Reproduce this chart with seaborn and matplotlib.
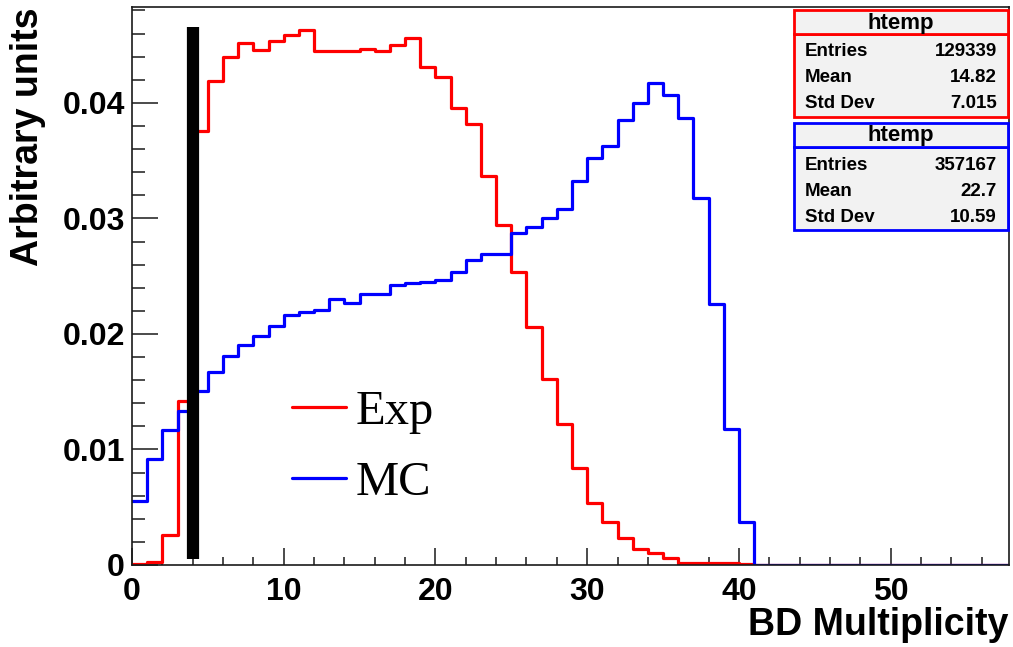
import numpy as np
import pandas as pd
import matplotlib
matplotlib.use("Agg")
import matplotlib.pyplot as plt
import seaborn as sns
from matplotlib.ticker import MultipleLocator, FuncFormatter
from matplotlib.patches import Rectangle
from matplotlib.lines import Line2D

# ---------------- data ----------------
bin_edges = list(range(0, 59))
exp_values = [0.0001, 0.0003, 0.0026, 0.0142, 0.0376, 0.0419, 0.0440, 0.0452, 0.0446, 0.0454,
              0.0459, 0.0463, 0.0445, 0.0445, 0.0445, 0.0447, 0.0445, 0.0450, 0.0456, 0.0431,
              0.0422, 0.0396, 0.0382, 0.0337, 0.0294, 0.0254, 0.0206, 0.0161, 0.0122, 0.0084,
              0.0054, 0.0037, 0.0023, 0.00135, 0.0010, 0.0006, 0.0002, 0.0002, 0.0002, 0.0002,
              0.0001] + [0.0] * 17
mc_values = [0.0055, 0.0092, 0.0117, 0.0133, 0.0151, 0.0167, 0.0181, 0.0190, 0.0198, 0.0207,
             0.0216, 0.0219, 0.0221, 0.0230, 0.0227, 0.0235, 0.0235, 0.0242, 0.0244, 0.0245,
             0.0247, 0.0254, 0.0264, 0.0269, 0.0269, 0.0287, 0.0293, 0.0300, 0.0308, 0.0332,
             0.0352, 0.0363, 0.0385, 0.0400, 0.0417, 0.0407, 0.0387, 0.0318, 0.0226, 0.0118,
             0.0037] + [0.0] * 17
cut_position = 4
cut_range = (0.0005, 0.0466)
x_ticks = [0, 10, 20, 30, 40, 50]
y_ticks = [0, 0.01, 0.02, 0.03, 0.04]
stats_exp = [("Entries", "129339"), ("Mean", "14.82"), ("Std Dev", "7.015")]
stats_mc = [("Entries", "357167"), ("Mean", "22.7"), ("Std Dev", "10.59")]

centers = [e + 0.5 for e in bin_edges[:-1]]
df = pd.DataFrame({"x": centers * 2,
                   "w": exp_values + mc_values,
                   "sample": ["Exp"] * len(centers) + ["MC"] * len(centers)})

# ---------------- figure ----------------
sns.set_style("ticks")
plt.rcParams["font.family"] = ["Liberation Sans", "DejaVu Sans"]
plt.rcParams.update({"text.color": "black", "axes.labelcolor": "black",
                     "xtick.color": "black", "ytick.color": "black",
                     "axes.edgecolor": "black"})

W, H = 1013, 647
fig = plt.figure(figsize=(W / 100, H / 100), dpi=100)
ax = fig.add_axes([132 / W, 1 - 565 / H, (1009 - 132) / W, (565 - 7) / H])

colors = {"Exp": "#ff0000", "MC": "#0000ff"}
for name in ["Exp", "MC"]:
    sns.histplot(data=df[df["sample"] == name], x="x", weights="w", bins=bin_edges,
                 element="step", fill=False, color=colors[name], linewidth=2.3, ax=ax)

ax.vlines(cut_position, cut_range[0], cut_range[1], colors="black", linewidth=8.8, zorder=5)

ax.set_xlim(0, 57.8)
ax.set_ylim(0, 0.0483)
ax.set_xlabel("")
ax.set_ylabel("")

for s in ax.spines.values():
    s.set_visible(True)
    s.set_linewidth(1.2)
    s.set_color("#1a1a1a")

ax.set_xticks(x_ticks)
ax.set_yticks(y_ticks)
ax.xaxis.set_minor_locator(MultipleLocator(2))
ax.yaxis.set_minor_locator(MultipleLocator(0.002))
ax.yaxis.set_major_formatter(FuncFormatter(lambda v, p: "0" if abs(v) < 1e-9 else f"{v:.2f}"))
ax.xaxis.set_major_formatter(FuncFormatter(lambda v, p: f"{int(round(v))}"))
ax.tick_params(axis="both", which="both", direction="in", width=1.1, color="#1a1a1a",
               labelcolor="black", top=False, right=False, labelsize=23)
ax.tick_params(axis="y", which="major", length=18.5, pad=5)
ax.tick_params(axis="y", which="minor", length=9)
ax.tick_params(axis="x", which="major", length=12, pad=9)
ax.tick_params(axis="x", which="minor", length=6)
for lab in ax.get_xticklabels() + ax.get_yticklabels():
    lab.set_fontweight("bold")

fig.text(28 / W, 1 - 7 / H, "Arbitrary units", rotation=90, ha="center", va="top",
         fontsize=27, fontweight="bold")
fig.text(1008 / W, 1 - 643 / H, "BD Multiplicity", ha="right", va="bottom",
         fontsize=27, fontweight="bold")

# legend
handles = [Line2D([], [], color=colors["Exp"], lw=2.3),
           Line2D([], [], color=colors["MC"], lw=2.3)]
leg = ax.legend(handles, ["Exp", "MC"], loc="upper left",
                bbox_to_anchor=(268 / W, 1 - 366 / H), bbox_transform=fig.transFigure,
                frameon=False, prop={"family": "Liberation Serif", "size": 35},
                handlelength=1.1, handletextpad=0.2, labelspacing=0.54, borderpad=0)

# stats boxes
def stats_box(top, color, rows):
    x0, x1 = 794, 1008
    title_h, body_h = 24, 83
    body = Rectangle((x0 / W, 1 - (top + title_h + body_h) / H), (x1 - x0) / W, body_h / H,
                     transform=fig.transFigure, facecolor="#f2f2f2", edgecolor=color,
                     linewidth=2.0, zorder=10)
    title = Rectangle((x0 / W, 1 - (top + title_h) / H), (x1 - x0) / W, title_h / H,
                      transform=fig.transFigure, facecolor="#f2f2f2", edgecolor=color,
                      linewidth=2.0, zorder=10)
    fig.add_artist(body)
    fig.add_artist(title)
    fig.text((x0 + x1) / 2 / W, 1 - (top + 13) / H, "htemp", ha="center", va="center",
             fontsize=16, fontweight="bold", zorder=11)
    for i, (k, v) in enumerate(rows):
        yy = top + 42 + i * 26
        fig.text(805 / W, 1 - yy / H, k, ha="left", va="center", fontsize=13.5,
                 fontweight="bold", zorder=11)
        fig.text(997 / W, 1 - yy / H, v, ha="right", va="center", fontsize=13.5,
                 fontweight="bold", zorder=11)

stats_box(10, colors["Exp"], stats_exp)
stats_box(123, colors["MC"], stats_mc)

fig.savefig("out.png", dpi=100)
